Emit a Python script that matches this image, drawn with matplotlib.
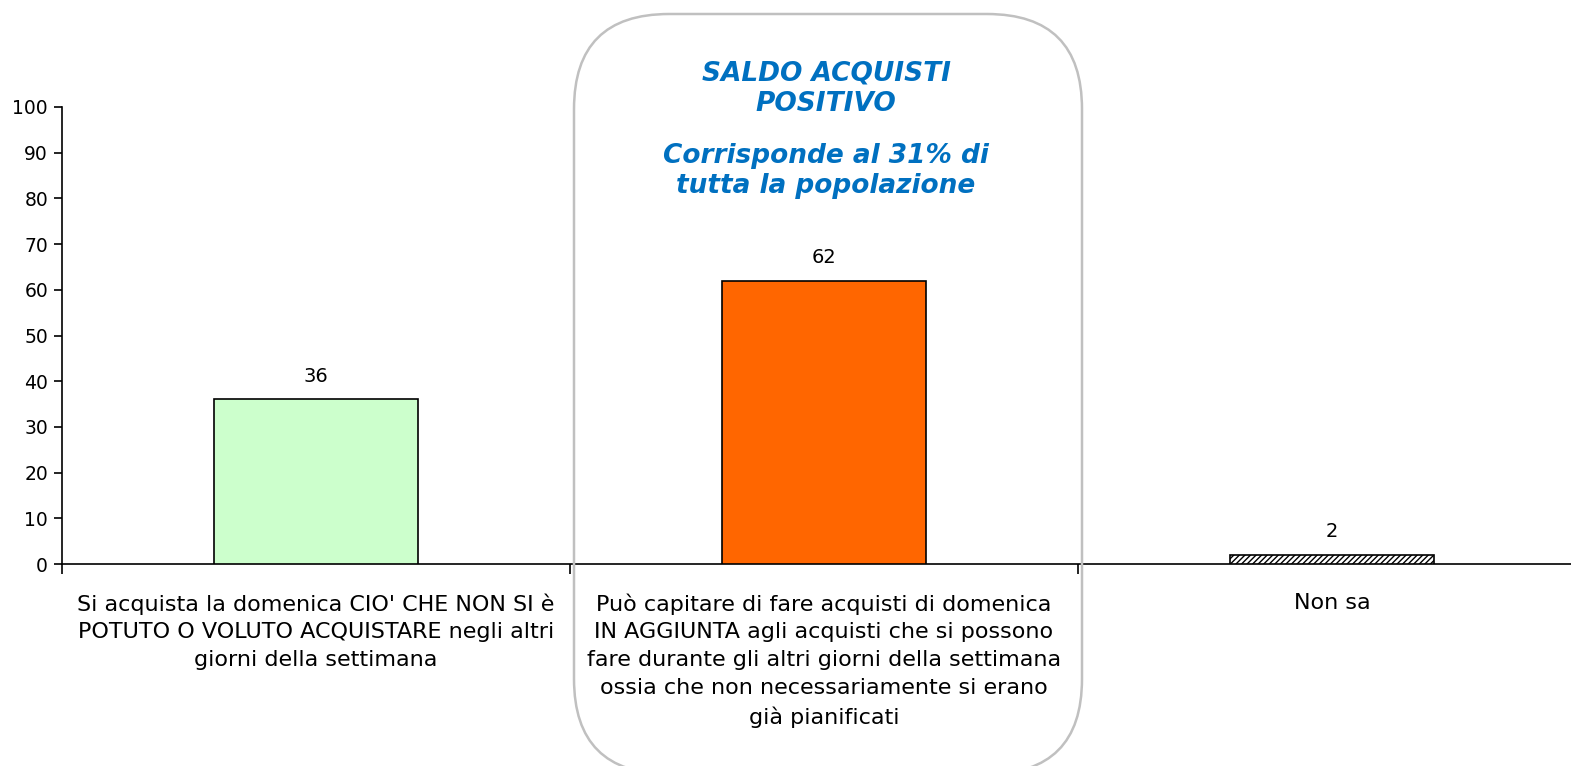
import matplotlib.pyplot as plt
from matplotlib.patches import FancyBboxPatch
from matplotlib.transforms import IdentityTransform

# data
categories = [
    "Si acquista la domenica CIO' CHE NON SI è\nPOTUTO O VOLUTO ACQUISTARE negli altri\ngiorni della settimana",
    "Può capitare di fare acquisti di domenica\nIN AGGIUNTA agli acquisti che si possono\nfare durante gli altri giorni della settimana\nossia che non necessariamente si erano\ngià pianificati",
    "Non sa",
]
values = [36, 62, 2]
bar_colors = ["#CCFFCC", "#FF6600", "#FFFFFF"]
bar_hatches = [None, None, "//////"]
yticks = list(range(0, 101, 10))
box_title = "SALDO ACQUISTI\nPOSITIVO"
box_note = "Corrisponde al 31% di\ntutta la popolazione"

plt.rcParams["font.family"] = ["DejaVu Sans"]
plt.rcParams["hatch.color"] = "#A8A8A8"
plt.rcParams["hatch.linewidth"] = 1.0

W, H = 1571, 766
fig = plt.figure(figsize=(W / 100, H / 100), dpi=100)
ax = fig.add_axes([62 / W, (H - 564) / H, (1586 - 62) / W, (564 - 107) / H])

xs = range(len(values))
bars = ax.bar(xs, values, width=0.4, color=bar_colors, edgecolor="black", linewidth=1.2, zorder=3)
for b, h in zip(bars, bar_hatches):
    if h:
        b.set_hatch(h)

for x, v in zip(xs, values):
    ax.annotate(str(v), (x, v), xytext=(0, 10), textcoords="offset points",
                ha="center", va="bottom", fontsize=14)

ax.set_xlim(-0.5, 2.5)
ax.set_ylim(0, 100)
ax.set_yticks(yticks)
ax.tick_params(axis="y", labelsize=13.5, length=6, width=1.2, direction="out", pad=4)

# boundaries get the tick marks, categories get the labels
ax.set_xticks([-0.5, 0.5, 1.5, 2.5])
ax.set_xticklabels([])
ax.tick_params(axis="x", which="major", length=7, width=1.2, direction="out")
ax.set_xticks(list(xs), minor=True)
ax.set_xticklabels(categories, minor=True, fontsize=16, linespacing=1.48)
ax.tick_params(axis="x", which="minor", length=0, pad=21)

for s in ["top", "right"]:
    ax.spines[s].set_visible(False)
ax.spines["left"].set_linewidth(1.2)
ax.spines["bottom"].set_linewidth(1.2)

# rounded highlight box around the middle category (pixel coords)
box = FancyBboxPatch((574, -8), 508, H - 14 + 8, boxstyle="round,pad=0,rounding_size=95",
                     transform=IdentityTransform(), facecolor="none", edgecolor="#C0C0C0",
                     linewidth=1.8, zorder=5)
fig.patches.append(box)

cx = 826 / W
fig.text(cx, (H - 89) / H, box_title, ha="center", va="center", fontsize=19,
         fontweight="bold", style="italic", color="#0070C0", linespacing=1.22)
fig.text(cx, (H - 171) / H, box_note, ha="center", va="center", fontsize=19,
         fontweight="bold", style="italic", color="#0070C0", linespacing=1.22)

fig.savefig("out.png", dpi=100)
